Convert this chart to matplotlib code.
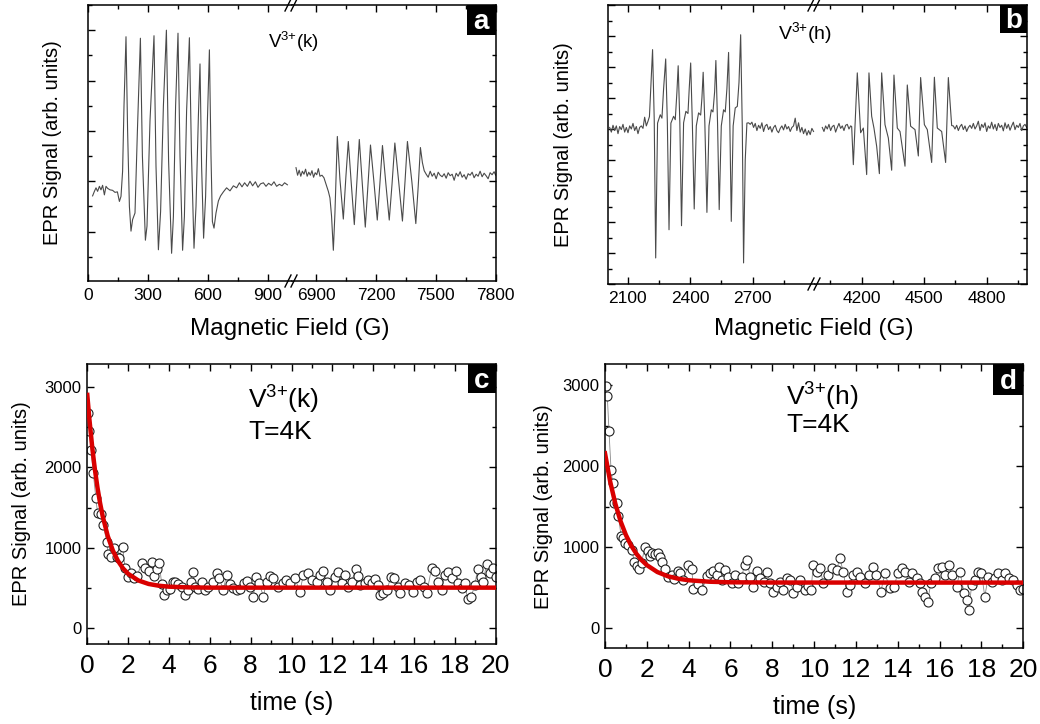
import matplotlib
matplotlib.use('Agg')
import matplotlib.pyplot as plt
from matplotlib.ticker import MultipleLocator, FixedLocator, NullFormatter
from matplotlib.patches import Rectangle
from matplotlib.lines import Line2D

plt.rcParams['font.family'] = ['Liberation Sans', 'DejaVu Sans']
plt.rcParams['mathtext.fontset'] = 'custom'
plt.rcParams['mathtext.rm'] = 'Liberation Sans'
plt.rcParams['mathtext.it'] = 'Liberation Sans:italic'
plt.rcParams['mathtext.bf'] = 'Liberation Sans:bold'

# ---- panel a: V3+(k) spectrum, low field part and high field part
a_left_field = [23, 32, 40, 48, 57, 65, 73, 82, 90, 98, 110, 123, 135, 147, 157, 165, 173, 180,
                190, 198, 207, 215, 223, 235, 247, 262, 272, 287, 295, 310, 330, 340, 352, 363,
                377, 392, 403, 418, 427, 438, 450, 460, 473, 482, 493, 507, 517, 530, 540, 552,
                560, 568, 578, 588, 597, 607, 615, 622, 630, 640, 652, 663, 677, 693, 710, 727,
                743, 757, 770, 783, 797, 810, 823, 837, 850, 863, 877, 890, 903, 917, 930, 943,
                957, 970, 983, 997]
a_left_signal = [-0.29, -0.2, -0.13, -0.2, -0.1, -0.17, -0.08, -0.27, -0.1, -0.14, -0.17, -0.18,
                 -0.22, -0.21, -0.4, -0.3, 0.2, 1.5, 2.87, 1.0, -0.5, -0.99, -0.76, -0.63, 1.0,
                 2.84, 0.5, -1.17, -0.89, 1.2, 2.89, 0.3, -1.36, -0.6, 1.5, 3.0, 0.4, -1.43, -0.7,
                 1.5, 2.94, 0.5, -1.37, -0.7, 1.4, 2.85, 0.6, -1.33, -0.5, 1.3, 2.33, 0.3, -1.13,
                 -0.3, 1.2, 2.61, 0.5, -0.8, -0.93, -0.63, -0.39, -0.29, -0.21, -0.13, -0.19,
                 -0.09, -0.13, -0.03, -0.11, -0.03, -0.1, 0.0, -0.09, -0.01, -0.12, -0.05, -0.03,
                 -0.1, -0.04, -0.08, -0.01, -0.1, -0.06, -0.09, -0.03, -0.07]

a_right_field = [6800, 6808, 6816, 6824, 6832, 6840, 6848, 6856, 6864, 6872, 6880, 6888, 6896,
                 6904, 6912, 6920, 6930, 6940, 6953, 6962, 6970, 6978, 6987, 6995, 7007, 7020,
                 7037, 7050, 7062, 7076, 7092, 7105, 7117, 7132, 7147, 7160, 7173, 7190, 7207,
                 7220, 7233, 7250, 7267, 7281, 7295, 7314, 7333, 7346, 7358, 7380, 7400, 7412,
                 7423, 7433, 7442, 7452, 7462, 7472, 7482, 7492, 7502, 7512, 7522, 7532, 7542,
                 7552, 7562, 7572, 7582, 7592, 7602, 7612, 7622, 7632, 7642, 7652, 7662, 7672,
                 7682, 7692, 7702, 7712, 7722, 7732, 7742, 7752, 7762, 7772, 7782, 7792, 7800]
a_right_signal = [0.27, 0.12, 0.22, 0.1, 0.2, 0.14, 0.24, 0.1, 0.18, 0.12, 0.21, 0.08, 0.17, 0.13,
                  0.25, 0.1, 0.12, 0.07, -0.09, -0.2, -0.33, -0.69, -1.37, -0.63, 0.89, 0.04,
                  -0.75, 0.1, 0.79, 0.0, -0.86, 0.0, 0.83, -0.05, -0.91, -0.1, 0.72, 0.0, -0.77,
                  -0.05, 0.71, -0.05, -0.77, -0.05, 0.76, 0.0, -0.79, 0.0, 0.79, 0.0, -0.84, -0.1,
                  0.67, 0.37, 0.21, 0.14, 0.08, 0.2, 0.1, 0.16, 0.05, 0.18, 0.12, 0.09, 0.15, 0.06,
                  0.17, 0.11, 0.14, 0.02, 0.16, 0.1, 0.19, 0.08, 0.13, 0.04, 0.15, 0.12, 0.18,
                  0.07, 0.14, 0.1, 0.2, 0.09, 0.16, 0.11, 0.05, 0.17, 0.13, 0.19, 0.12]

# ---- panel b: V3+(h) spectrum
b_left_field = [2014, 2022, 2030, 2038, 2046, 2054, 2062, 2070, 2078, 2086, 2094, 2102, 2110,
                2118, 2126, 2134, 2142, 2150, 2158, 2166, 2174, 2182, 2190, 2198, 2205,
                2220, 2228, 2235, 2244, 2257, 2265, 2273,
                2283, 2291, 2299, 2308, 2321, 2329, 2337,
                2343, 2351, 2359, 2369, 2380, 2390, 2396,
                2403, 2411, 2420, 2430, 2441, 2451, 2457,
                2463, 2471, 2481, 2491, 2502, 2510, 2518,
                2524, 2532, 2540, 2550, 2561, 2569, 2577,
                2585, 2591, 2598, 2607, 2617, 2627, 2635,
                2643, 2651, 2657, 2665, 2673,
                2681, 2689, 2697, 2705, 2713, 2721, 2729, 2737, 2745, 2753, 2761, 2769, 2777,
                2785, 2793, 2801, 2809, 2817, 2825, 2833, 2841, 2849, 2857, 2865, 2873, 2881,
                2889, 2897, 2905, 2913, 2921, 2929, 2937, 2945, 2953, 2961, 2969, 2977, 2985, 2993]
b_left_signal = [0.05, -0.1, 0.12, -0.05, 0.1, -0.15, 0.08, -0.02, 0.15, -0.1, 0.05, -0.12, 0.1,
                 0.0, 0.18, -0.05, 0.08, -0.15, 0.05, 0.1, 0.02, 0.38, 0.1, 0.25, 0.4,
                 2.56, 0.3, -4.16, 0.19, 0.46, 0.35, 1.3,
                 2.26, 0.2, -3.25, 0.19, 0.41, 0.3, 1.2,
                 2.04, 0.2, -3.12, 0.2, 0.57, 0.5, 1.3,
                 2.13, 0.2, -2.58, 0.1, 0.52, 0.45, 1.0,
                 1.83, 0.2, -2.69, 0.1, 0.62, 0.55, 1.2,
                 2.21, 0.2, -2.6, 0.1, 0.62, 0.55, 1.3,
                 2.47, 0.2, -2.98, 0.1, 0.68, 0.73, 1.5,
                 3.04, 0.0, -4.32, -1.0, 0.19,
                 0.2, 0.15, 0.22, 0.05, 0.18, -0.05, 0.12, 0.02, 0.2, -0.08, 0.1, 0.15, -0.02,
                 0.08, -0.1, 0.05, 0.12, -0.05, -0.12, 0.02, 0.1, -0.03, 0.15, 0.0, 0.08, -0.08,
                 0.05, 0.1, 0.35, -0.05, 0.2, -0.1, 0.05, -0.15, 0.0, -0.2, -0.05, -0.18, 0.02, -0.08]

b_right_field = [4011, 4019, 4027, 4035, 4043, 4051, 4059, 4067, 4075, 4083, 4091, 4099, 4107,
                 4115, 4123, 4131, 4139, 4147,
                 4152, 4160, 4179, 4195, 4208, 4224, 4235, 4248, 4259, 4272, 4285, 4296, 4312,
                 4328, 4344, 4355, 4371, 4384, 4408, 4419, 4435, 4456, 4472, 4483, 4501, 4515,
                 4536, 4549, 4563, 4584, 4603, 4616, 4632,
                 4640, 4648, 4656, 4664, 4672, 4680, 4688, 4696, 4704, 4712, 4720, 4728, 4736,
                 4744, 4752, 4760, 4768, 4776, 4784, 4792, 4800, 4808, 4816, 4824, 4832, 4840,
                 4848, 4856, 4864, 4872, 4880, 4888, 4896, 4904, 4912, 4920, 4928, 4936, 4944,
                 4952, 4960, 4968, 4976, 4984, 4992]
b_right_signal = [0.05, -0.08, 0.1, 0.0, 0.15, -0.05, 0.08, 0.12, -0.1, 0.05, 0.18, 0.02, 0.1,
                  -0.05, 0.12, 0.15, 0.0, 0.1,
                  0.08, -1.15, 1.81, -0.12, 0.03, -1.47, 1.81, 0.41, 0.03, -0.56, -1.44, 1.81,
                  0.14, -0.29, -1.33, 1.74, 0.03, -0.08, -1.2, 1.42, 0.09, -0.02, -0.87, 1.66,
                  0.14, -0.02, -1.08, 1.67, 0.03, -0.08, -1.08, 1.66, 0.11,
                  0.1, 0.0, 0.12, -0.05, 0.08, 0.15, -0.02, 0.1, -0.08, 0.05, 0.12, 0.02, 0.18,
                  0.0, 0.1, 0.25, -0.05, 0.15, 0.05, 0.2, -0.08, 0.1, 0.02, 0.22, 0.0, 0.15,
                  -0.05, 0.18, 0.05, 0.12, -0.06, 0.2, 0.02, 0.15, -0.04, 0.1, 0.22, -0.02, 0.12,
                  0.05, 0.18, -0.05, 0.1, 0.15, 0.05]

# ---- panel c: V3+(k) decay at 4 K
c_time = [0.05, 0.1, 0.18, 0.29, 0.42, 0.5, 0.65, 0.78, 0.95, 1.03,
          1.16, 1.31, 1.44, 1.57, 1.73, 1.85, 2.0, 2.14, 2.28, 2.45,
          2.66, 2.82, 3.04, 3.15, 3.28, 3.4, 3.53, 3.64, 3.76, 3.89,
          4.05, 4.18, 4.29, 4.46, 4.62, 4.78, 4.94, 5.07, 5.16, 5.27,
          5.44, 5.6, 5.76, 5.93, 6.14, 6.33, 6.46, 6.66, 6.82, 6.99,
          7.15, 7.31, 7.48, 7.67, 7.8, 7.97, 8.13, 8.26, 8.42, 8.62,
          8.78, 8.95, 9.11, 9.36, 9.57, 9.75, 9.92, 10.17, 10.41, 10.58,
          10.82, 10.99, 11.23, 11.39, 11.56, 11.72, 11.88, 12.13, 12.26, 12.45,
          12.62, 12.75, 12.94, 13.14, 13.24, 13.35, 13.6, 13.76, 13.96, 14.09,
          14.22, 14.33, 14.49, 14.66, 14.87, 15.03, 15.23, 15.31, 15.56, 15.75,
          15.96, 16.13, 16.29, 16.5, 16.62, 16.86, 17.02, 17.19, 17.35, 17.51,
          17.68, 17.84, 18.04, 18.17, 18.33, 18.49, 18.62, 18.79, 18.98, 19.11,
          19.28, 19.39, 19.55, 19.72, 19.88, 20.0]
c_signal = [2671, 2455, 2215, 1934, 1615, 1437, 1420, 1284, 1077, 923,
            890, 994, 890, 878, 1014, 745, 642, 691, 621, 650,
            816, 745, 716, 828, 650, 733, 807, 551, 414, 476,
            484, 580, 580, 551, 518, 414, 476, 580, 704, 518,
            484, 580, 476, 518, 580, 691, 621, 476, 662, 551,
            497, 476, 484, 567, 592, 518, 393, 642, 567, 393,
            580, 650, 621, 518, 567, 600, 559, 621, 455, 662,
            683, 600, 580, 662, 716, 580, 476, 642, 704, 559,
            662, 517, 580, 733, 650, 538, 559, 600, 567, 608,
            538, 414, 435, 476, 633, 621, 517, 435, 567, 538,
            455, 580, 600, 517, 435, 745, 716, 580, 476, 662,
            704, 621, 716, 559, 497, 559, 360, 385, 538, 733,
            642, 580, 799, 683, 745, 642]
c_fit_time = [0, 0.1, 0.25, 0.375, 0.5, 0.625, 0.75, 1.0, 1.25, 1.5, 1.75, 2.0, 2.5, 3.0, 3.5,
              4.0, 5.0, 6.0, 20.0]
c_fit = [2899, 2604, 2228, 1967, 1745, 1557, 1397, 1147, 967, 838, 744, 677, 594, 551, 529,
         517, 508, 505, 505]

# ---- panel d: V3+(h) decay at 4 K
d_time = [0.05, 0.11, 0.19, 0.29, 0.37, 0.45, 0.56, 0.64, 0.77, 0.88,
          0.96, 1.12, 1.28, 1.4, 1.52, 1.63, 1.75, 1.91, 2.04, 2.15,
          2.26, 2.39, 2.52, 2.63, 2.74, 2.87, 3.0, 3.19, 3.32, 3.48,
          3.59, 3.75, 3.99, 4.15, 4.23, 4.47, 4.66, 4.86, 5.02, 5.18,
          5.34, 5.45, 5.58, 5.74, 5.9, 6.06, 6.22, 6.38, 6.54, 6.67,
          6.78, 6.94, 7.1, 7.26, 7.42, 7.58, 7.74, 7.89, 8.05, 8.21,
          8.37, 8.53, 8.69, 8.85, 9.01, 9.17, 9.33, 9.57, 9.72, 9.85,
          9.96, 10.12, 10.28, 10.44, 10.64, 10.83, 11.07, 11.23, 11.39, 11.55,
          11.71, 11.87, 12.03, 12.19, 12.43, 12.62, 12.83, 12.98, 13.19, 13.38,
          13.62, 13.83, 13.99, 14.18, 14.34, 14.53, 14.69, 14.9, 15.06, 15.17,
          15.3, 15.42, 15.58, 15.77, 15.93, 16.09, 16.25, 16.44, 16.6, 16.81,
          16.97, 17.17, 17.29, 17.4, 17.53, 17.68, 17.84, 18.0, 18.16, 18.32,
          18.48, 18.64, 18.8, 18.96, 19.12, 19.31, 19.52, 19.68, 19.84, 20.0]
d_signal = [2988, 2865, 2437, 1952, 1788, 1549, 1541, 1385, 1138, 1110,
            1048, 1028, 966, 822, 769, 727, 810, 1007, 958, 892,
            933, 917, 925, 884, 822, 727, 637, 658, 604, 711,
            678, 596, 781, 727, 481, 547, 473, 645, 678, 711,
            658, 752, 596, 719, 637, 563, 658, 563, 637, 781,
            843, 637, 514, 711, 617, 575, 699, 563, 452, 514,
            575, 473, 617, 596, 432, 514, 596, 473, 520, 472,
            781, 699, 740, 555, 657, 740, 719, 863, 699, 452,
            534, 657, 699, 637, 555, 657, 760, 657, 452, 678,
            493, 514, 678, 740, 699, 575, 678, 616, 555, 452,
            390, 329, 555, 616, 740, 760, 657, 781, 657, 514,
            699, 431, 349, 226, 534, 596, 699, 678, 390, 637,
            575, 616, 678, 596, 678, 616, 596, 534, 472, 480]
d_fit_time = [0, 0.25, 0.5, 0.75, 1.0, 1.25, 1.5, 1.75, 2.0, 2.5, 3.0, 3.5, 4.0, 5.0, 6.0, 8.0,
              20.0]
d_fit = [2158, 1805, 1530, 1316, 1150, 1020, 919, 840, 779, 694, 642, 611, 592, 574, 567, 564,
         563]

W, H = 1040, 724
fig = plt.figure(figsize=(W / 100, H / 100), dpi=100)


def px_axes(x0, y0, x1, y1):
    return fig.add_axes([x0 / W, 1 - y1 / H, (x1 - x0) / W, (y1 - y0) / H])


def ticks_in(ax, xsize, ysize):
    ax.tick_params(which='both', direction='in', top=True, right=True, width=1)
    ax.tick_params(which='major', length=5)
    ax.tick_params(which='minor', length=3)
    ax.tick_params(axis='x', labelsize=xsize, pad=5)
    ax.tick_params(axis='y', labelsize=ysize, pad=4)
    for s in ax.spines.values():
        s.set_linewidth(1.1)


def put_ylabel(ax, xpos):
    ax.set_ylabel('EPR Signal (arb. units)', fontsize=14.5, va='center')
    ax.yaxis.set_label_coords(xpos, 0.5)


def tag(x0, y0, x1, y1, letter):
    fig.patches.append(Rectangle((x0 / W, 1 - y1 / H), (x1 - x0) / W, (y1 - y0) / H,
                                 transform=fig.transFigure, facecolor='black', edgecolor='none',
                                 zorder=5))
    fig.text((x0 + x1) / 2 / W, 1 - (y0 + y1) / 2 / H - 0.003, letter, color='white',
             fontsize=20, fontweight='bold', ha='center', va='center', zorder=6)


def break_marks(x, ys):
    for y in ys:
        for dx in (-4, 2):
            fig.add_artist(Line2D([(x + dx - 3) / W, (x + dx + 3) / W],
                                  [1 - (y + 6) / H, 1 - (y - 6) / H],
                                  transform=fig.transFigure, color='black', lw=1.0))


def split_panel(left_box, right_box, left_data, right_data, xl1, xl2, maj1, min1, maj2, min2,
                ylim, ymaj):
    ax1 = px_axes(*left_box)
    ax2 = px_axes(*right_box)
    ax1.plot(*left_data, color='#4a4a4a', lw=0.8)
    ax2.plot(*right_data, color='#4a4a4a', lw=0.8)
    for ax, xl, mj, mn in ((ax1, xl1, maj1, min1), (ax2, xl2, maj2, min2)):
        ax.set_xlim(*xl)
        ax.set_ylim(*ylim)
        ax.xaxis.set_major_locator(FixedLocator(mj))
        ax.xaxis.set_minor_locator(FixedLocator(mn))
        ax.yaxis.set_major_locator(MultipleLocator(ymaj))
        ax.yaxis.set_minor_locator(MultipleLocator(ymaj / 2))
        ax.yaxis.set_major_formatter(NullFormatter())
        ticks_in(ax, 12.5, 12)
    ax1.spines['right'].set_visible(False)
    ax2.spines['left'].set_visible(False)
    ax1.tick_params(which='both', right=False)
    ax2.tick_params(which='both', left=False)
    return ax1, ax2


# panel a
a1, a2 = split_panel((88, 5, 292, 281), (292, 5, 495.7, 281),
                     (a_left_field, a_left_signal), (a_right_field, a_right_signal),
                     (0, 1020), (6780, 7800), [0, 300, 600, 900], [150, 450, 750],
                     [6900, 7200, 7500, 7800], [7050, 7350, 7650], (-1.98, 3.5), 1)
put_ylabel(a1, -0.176)
fig.text(290 / W, 1 - 329 / H, 'Magnetic Field (G)', fontsize=17.5, ha='center', va='center')
fig.text(293 / W, 1 - 42 / H, r'V$^{3{+}}$(k)', fontsize=13.5, ha='center', va='center')
break_marks(292, (5, 281))
tag(467, 5, 495.7, 35, 'a')

# panel b
b1, b2 = split_panel((608, 5, 815, 284), (815, 5, 1027.3, 284),
                     (b_left_field, b_left_signal), (b_right_field, b_right_signal),
                     (2006, 3000), (3976, 4995), [2100, 2400, 2700], [2250, 2550, 2850],
                     [4200, 4500, 4800], [4050, 4350, 4650, 4950], (-5, 4), 1)
put_ylabel(b1, -0.217)
fig.text(814 / W, 1 - 329 / H, 'Magnetic Field (G)', fontsize=17.5, ha='center', va='center')
fig.text(805 / W, 1 - 33 / H, r'V$^{3{+}}$(h)', fontsize=14, ha='center', va='center')
break_marks(815, (5, 284))
tag(1000, 5, 1027.3, 33, 'b')


def decay_panel(box, t, s, ft, fs, ylim, label_x, xlabel_y, name, text_x, text_y1, text_y2):
    ax = px_axes(*box)
    ax.plot(t, s, '-', color='#888888', lw=0.6, marker='o', ms=6.5, mfc='white',
            mec='#222222', mew=0.8, zorder=2)
    ax.plot(ft, fs, color='#d90000', lw=3.2, zorder=3)
    ax.set_xlim(0, 20)
    ax.set_ylim(*ylim)
    ax.xaxis.set_major_locator(MultipleLocator(2))
    ax.xaxis.set_minor_locator(MultipleLocator(1))
    ax.yaxis.set_major_locator(MultipleLocator(1000))
    ax.yaxis.set_minor_locator(MultipleLocator(500))
    ticks_in(ax, 19, 12)
    ax.tick_params(axis='x', pad=7)
    put_ylabel(ax, label_x)
    ax.set_xlabel('time (s)', fontsize=18, va='center')
    ax.xaxis.set_label_coords(0.5, xlabel_y)
    fig.text(text_x / W, 1 - text_y1 / H, name, fontsize=19, ha='left', va='center')
    fig.text(text_x / W, 1 - text_y2 / H, 'T=4K', fontsize=19, ha='left', va='center')
    return ax


decay_panel((87.3, 364, 495.7, 644), c_time, c_signal, c_fit_time, c_fit, (-195, 3283),
            -0.16, -0.21, r'V$^{3{+}}$(k)', 248, 400, 432)
tag(467.7, 364, 495.7, 393, 'c')

decay_panel((605, 364, 1023.3, 648.3), d_time, d_signal, d_fit_time, d_fit, (-247, 3259),
            -0.148, -0.205, r'V$^{3{+}}$(h)', 786, 397, 425)
tag(993, 364, 1023.3, 395, 'd')

fig.savefig('out.png', dpi=100)
